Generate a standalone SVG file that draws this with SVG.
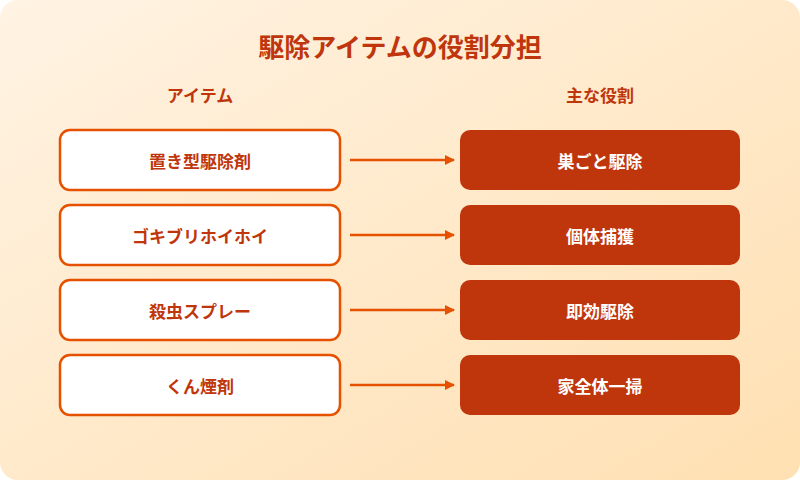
<svg xmlns="http://www.w3.org/2000/svg" width="800" height="480" viewBox="0 0 800 480">
<defs>
<linearGradient id="bg" x1="0" y1="0" x2="1" y2="1">
<stop offset="0" stop-color="#FFF3E3"/>
<stop offset="1" stop-color="#FFE0B2"/>
</linearGradient>
<marker id="ah" markerWidth="10" markerHeight="10" refX="9" refY="5" orient="auto" markerUnits="userSpaceOnUse">
<path d="M0,0 L10,5 L0,10 Z" fill="#E65100"/>
</marker>
<style>
text{font-family:"Noto Sans CJK JP","Noto Sans",sans-serif;font-weight:bold;text-anchor:middle;dominant-baseline:central}
.title{font-size:26px;fill:#BF360C}
.hdr{font-size:17px;fill:#BF360C}
.lbox{fill:#fff;stroke:#E65100;stroke-width:2.5}
.rbox{fill:#BF360C}
.ltxt{font-size:17px;fill:#BF360C}
.rtxt{font-size:17px;fill:#fff}
.conn line{stroke:#E65100;stroke-width:2.5;marker-end:url(#ah)}
</style>
</defs>
<rect x="0" y="0" width="800" height="480" rx="18" fill="url(#bg)"/>
<text class="title" x="400" y="45">駆除アイテムの役割分担</text>
<text class="hdr" x="200" y="94">アイテム</text>
<text class="hdr" x="600" y="94">主な役割</text>
<g id="item1"><rect class="lbox" x="60" y="130" width="280" height="60" rx="10"/><text class="ltxt" x="200" y="160">置き型駆除剤</text></g>
<g id="item2"><rect class="lbox" x="60" y="205" width="280" height="60" rx="10"/><text class="ltxt" x="200" y="235">ゴキブリホイホイ</text></g>
<g id="item3"><rect class="lbox" x="60" y="280" width="280" height="60" rx="10"/><text class="ltxt" x="200" y="310">殺虫スプレー</text></g>
<g id="item4"><rect class="lbox" x="60" y="355" width="280" height="60" rx="10"/><text class="ltxt" x="200" y="385">くん煙剤</text></g>
<g id="role1"><rect class="rbox" x="460" y="130" width="280" height="60" rx="10"/><text class="rtxt" x="600" y="160">巣ごと駆除</text></g>
<g id="role2"><rect class="rbox" x="460" y="205" width="280" height="60" rx="10"/><text class="rtxt" x="600" y="235">個体捕獲</text></g>
<g id="role3"><rect class="rbox" x="460" y="280" width="280" height="60" rx="10"/><text class="rtxt" x="600" y="310">即効駆除</text></g>
<g id="role4"><rect class="rbox" x="460" y="355" width="280" height="60" rx="10"/><text class="rtxt" x="600" y="385">家全体一掃</text></g>
<g class="conn" id="connectors">
<line x1="350" y1="160" x2="454" y2="160"/>
<line x1="350" y1="235" x2="454" y2="235"/>
<line x1="350" y1="310" x2="454" y2="310"/>
<line x1="350" y1="385" x2="454" y2="385"/>
</g>
</svg>
